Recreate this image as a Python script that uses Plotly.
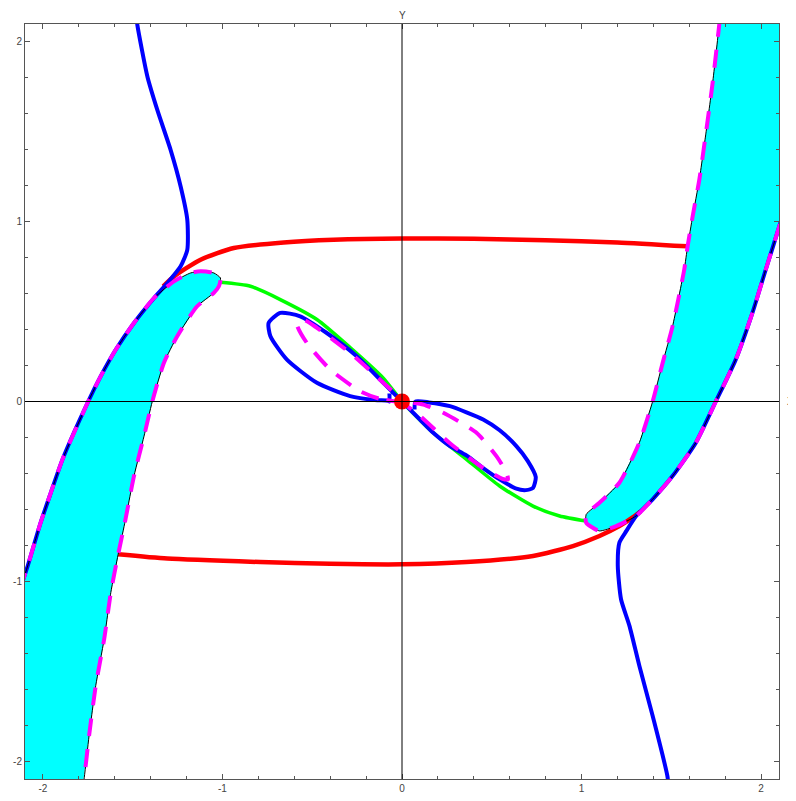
import plotly.graph_objects as go

# ---------------- data ----------------
# Left cyan band: outline (outer side bottom->top, cap, inner side top->bottom)
bandL_x = [-2.13, -2.085, -2.015, -1.956, -1.891, -1.748, -1.678, -1.594, -1.493, -1.381,
           -1.27, -1.178, -1.122, -1.048, -1.011, -1.02, -1.048, -1.141, -1.252, -1.326,
           -1.391, -1.437, -1.493, -1.545, -1.581, -1.622, -1.659, -1.706, -1.743, -1.77, -1.8]
bandL_y = [-1.05, -0.915, -0.68, -0.507, -0.322, 0.0, 0.141, 0.289, 0.437, 0.576,
           0.668, 0.715, 0.724, 0.715, 0.687, 0.641, 0.604, 0.53, 0.363, 0.215,
           0.0, -0.193, -0.415, -0.68, -0.85, -1.063, -1.322, -1.581, -1.859, -2.093, -2.3]
bandL_close_x = [-2.3, -2.3]
bandL_close_y = [-2.3, -1.05]

# Right cyan band: outline (inner side top->bottom, cap, outer side bottom->top)
bandR_x = [1.79, 1.767, 1.73, 1.693, 1.656, 1.619, 1.591, 1.572, 1.507, 1.452, 1.396,
           1.322, 1.211, 1.1, 1.026, 1.026, 1.1, 1.193, 1.304, 1.396, 1.507, 1.637,
           1.748, 1.859, 1.952, 2.026, 2.096, 2.14]
bandR_y = [2.3, 2.094, 1.77, 1.493, 1.233, 1.03, 0.863, 0.733, 0.418, 0.215, 0.0,
           -0.229, -0.452, -0.563, -0.628, -0.674, -0.72, -0.693, -0.637, -0.544, -0.415, -0.229,
           0.0, 0.233, 0.493, 0.733, 0.956, 1.1]
bandR_close_x = [2.3, 2.3]
bandR_close_y = [1.1, 2.3]

# Blue curves
blueU_x = [-1.48, -1.474, -1.418, -1.363, -1.289, -1.233, -1.196, -1.196, -1.233, -1.307,
           -1.381, -1.493, -1.594, -1.678, -1.748, -1.891, -1.956, -2.015, -2.085, -2.13]
blueU_y = [2.15, 2.094, 1.807, 1.622, 1.4, 1.196, 1.011, 0.844, 0.752, 0.659,
           0.576, 0.437, 0.289, 0.141, 0.0, -0.322, -0.507, -0.68, -0.915, -1.05]
blueD_x = [1.48, 1.48, 1.396, 1.322, 1.267, 1.22, 1.202, 1.211, 1.25, 1.304, 1.396,
           1.507, 1.637, 1.748, 1.859, 1.952, 2.026, 2.096, 2.14]
blueD_y = [-2.15, -2.094, -1.748, -1.47, -1.248, -1.1, -0.915, -0.785, -0.72, -0.637, -0.544,
           -0.415, -0.229, 0.0, 0.233, 0.493, 0.733, 0.956, 1.1]
loopUL_x = [-0.03, -0.104, -0.252, -0.419, -0.567, -0.678, -0.743, -0.733, -0.641, -0.474,
            -0.289, -0.15, -0.076, -0.07, -0.07]
loopUL_y = [0.03, 0.104, 0.252, 0.381, 0.474, 0.493, 0.437, 0.363, 0.233, 0.104,
            0.03, 0.008, 0.004, 0.0, 0.045]
loopLR_x = [0.07, 0.075, 0.15, 0.267, 0.359, 0.452, 0.544, 0.637, 0.7, 0.745, 0.73,
            0.69, 0.637, 0.544, 0.452, 0.359, 0.267, 0.174, 0.1, 0.03]
loopLR_y = [-0.045, 0.0, -0.005, -0.026, -0.06, -0.1, -0.16, -0.248, -0.33, -0.42, -0.48,
            -0.493, -0.485, -0.433, -0.37, -0.3, -0.248, -0.174, -0.1, -0.03]

# Red curves
redU_x = [-1.33, -1.27, -1.122, -0.937, -0.659, -0.381, 0.0, 0.4, 0.8, 1.2, 1.591]
redU_y = [0.64, 0.696, 0.789, 0.854, 0.885, 0.9, 0.907, 0.905, 0.897, 0.885, 0.863]
redD_x = [-1.581, -1.307, -0.789, -0.4, 0.0, 0.359, 0.73, 0.952, 1.1, 1.211, 1.285, 1.33]
redD_y = [-0.85, -0.874, -0.893, -0.903, -0.906, -0.893, -0.859, -0.804, -0.748, -0.693, -0.645, -0.61]
dot_x = [0.0]
dot_y = [0.0]

# Green curve
green_x = [-1.011, -0.844, -0.678, -0.474, -0.289, -0.104, 0.0, 0.174, 0.359, 0.544,
           0.73, 0.878, 1.026]
green_y = [0.663, 0.641, 0.567, 0.456, 0.3, 0.13, 0.0, -0.174, -0.322, -0.47,
           -0.582, -0.637, -0.665]

# Magenta inner loops
magUL_x = [0.0, -0.13, -0.233, -0.4, -0.53, -0.585, -0.55, -0.474, -0.289, -0.104, 0.0]
magUL_y = [0.0, 0.017, 0.057, 0.178, 0.326, 0.43, 0.455, 0.41, 0.27, 0.104, 0.0]
magLR_x = [0.0, 0.063, 0.119, 0.23, 0.415, 0.526, 0.582, 0.59, 0.56, 0.452, 0.267, 0.1, 0.0]
magLR_y = [0.0, -0.007, -0.017, -0.063, -0.174, -0.304, -0.396, -0.433, -0.43, -0.37, -0.232, -0.08, 0.0]

major_ticks = [-2, -1, 0, 1, 2]
tick_text = ["-2", "-1", "0", "1", "2"]
x_range = [-2.1, 2.1]
y_range = [-2.1, 2.1]

# ---------------- figure ----------------
CYAN = "#00FFFF"
BLUE = "#0000FF"
RED = "#FF0000"
GREEN = "#00FF00"
MAG = "#FF00FF"
DASH = "18px,13px"
FONT = "Liberation Sans, Arial, sans-serif"

fig = go.Figure()

# cyan fills
fig.add_trace(go.Scatter(x=bandL_x + bandL_close_x, y=bandL_y + bandL_close_y,
                         fill="toself", fillcolor=CYAN, mode="lines",
                         line=dict(width=0, color=CYAN), hoverinfo="skip"))
fig.add_trace(go.Scatter(x=bandR_x + bandR_close_x, y=bandR_y + bandR_close_y,
                         fill="toself", fillcolor=CYAN, mode="lines",
                         line=dict(width=0, color=CYAN), hoverinfo="skip"))

# red and green
for xs, ys in [(redU_x, redU_y), (redD_x, redD_y)]:
    fig.add_trace(go.Scatter(x=xs, y=ys, mode="lines",
                             line=dict(color=RED, width=4.5, shape="spline", smoothing=0.6)))
fig.add_trace(go.Scatter(x=green_x, y=green_y, mode="lines",
                         line=dict(color=GREEN, width=3.5, shape="spline", smoothing=0.6)))

# blue
for xs, ys in [(blueU_x, blueU_y), (blueD_x, blueD_y), (loopUL_x, loopUL_y), (loopLR_x, loopLR_y)]:
    fig.add_trace(go.Scatter(x=xs, y=ys, mode="lines",
                             line=dict(color=BLUE, width=4, shape="spline", smoothing=0.6)))

# thin black outlines of the bands
for xs, ys in [(bandL_x, bandL_y), (bandR_x, bandR_y)]:
    fig.add_trace(go.Scatter(x=xs, y=ys, mode="lines",
                             line=dict(color="black", width=1, shape="spline", smoothing=0.5)))

# magenta dashed
for xs, ys in [(bandL_x, bandL_y), (bandR_x, bandR_y), (magUL_x, magUL_y), (magLR_x, magLR_y)]:
    fig.add_trace(go.Scatter(x=xs, y=ys, mode="lines",
                             line=dict(color=MAG, width=4, dash=DASH, shape="spline", smoothing=0.6)))

# red dot
fig.add_trace(go.Scatter(x=dot_x, y=dot_y, mode="markers",
                         marker=dict(color=RED, size=16, line=dict(width=0))))

axis_common = dict(
    showgrid=False, zeroline=False, automargin=False,
    showline=True, linecolor="#555555", linewidth=1, mirror="ticks",
    ticks="inside", ticklen=5, tickcolor="#555555", tickwidth=1,
    tickvals=major_ticks, ticktext=tick_text,
    tickfont=dict(family=FONT, size=10, color="#444444"),
    minor=dict(dtick=0.2, tick0=0, ticks="inside", ticklen=3, tickcolor="#555555", tickwidth=1),
)

# the page body adds an 8px offset, so the figure is sized to fit the 796x801 window
fig.update_layout(
    width=788, height=793,
    margin=dict(l=17, r=17, t=16, b=22),
    paper_bgcolor="white", plot_bgcolor="white",
    showlegend=False,
    xaxis=dict(range=x_range, **axis_common),
    yaxis=dict(range=y_range, **axis_common),
    shapes=[
        dict(type="line", xref="paper", x0=0, x1=1, yref="y", y0=0, y1=0,
             line=dict(color="black", width=1), layer="above"),
        dict(type="line", xref="x", x0=0, x1=0, yref="paper", y0=0, y1=1,
             line=dict(color="black", width=1), layer="above"),
    ],
    annotations=[
        dict(text="X", xref="paper", x=1, xanchor="left", xshift=6, yref="y", y=0,
             yanchor="middle", showarrow=False, font=dict(family=FONT, size=10, color="#444444")),
        dict(text="Y", xref="x", x=0, xanchor="center", yref="paper", y=1, yanchor="bottom",
             yshift=1, showarrow=False, font=dict(family=FONT, size=10, color="#444444")),
    ],
)

fig.write_html("out.html")
